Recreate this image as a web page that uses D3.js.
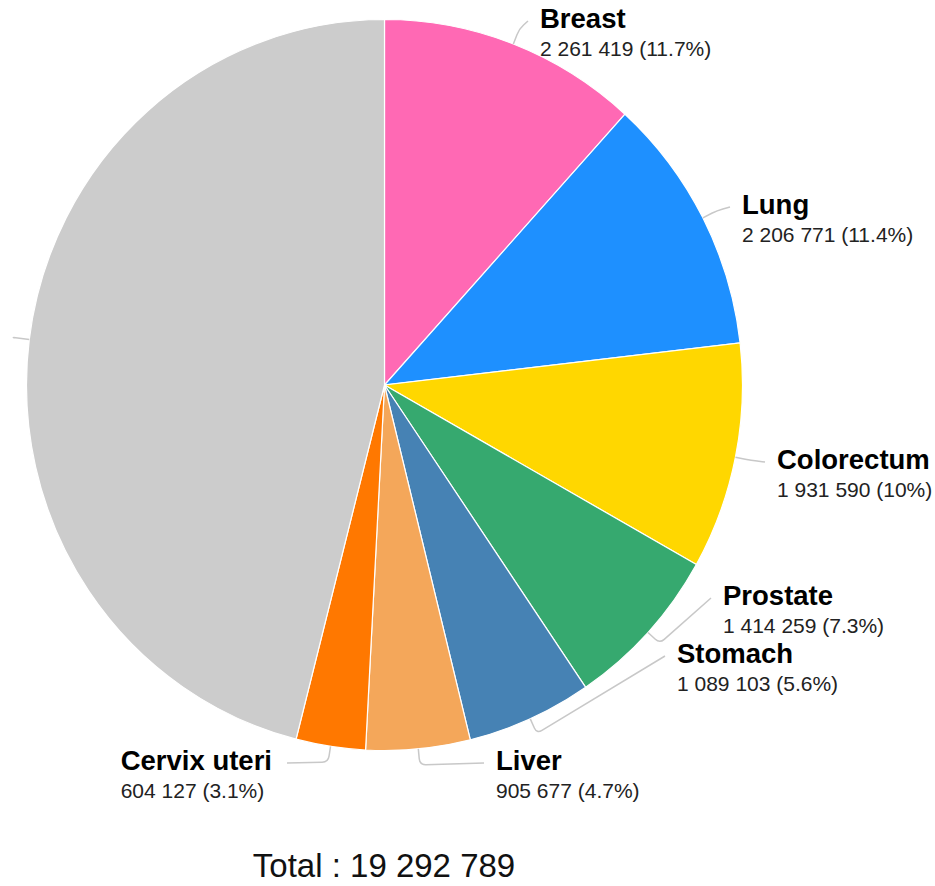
<!DOCTYPE html>
<html>
<head>
<meta charset="utf-8">
<script src="https://cdn.jsdelivr.net/npm/d3@7"></script>
<style>
  html, body { margin: 0; padding: 0; background: #fff; }
  svg { display: block; font-family: "Liberation Sans", Arial, sans-serif; }
</style>
</head>
<body>
<svg id="chart" width="935" height="886"></svg>
<script>
// ---- data ----
const categories = ["Breast", "Lung", "Colorectum", "Prostate", "Stomach", "Liver", "Cervix uteri", "Other cancers"];
const values = [2261419, 2206771, 1931590, 1414259, 1089103, 905677, 604127, 8879843];
const percentLabels = ["11.7%", "11.4%", "10%", "7.3%", "5.6%", "4.7%", "3.1%", "46%"];
const colors = ["#ff69b4", "#1e90ff", "#ffd700", "#36a96f", "#4682b4", "#f4a75a", "#ff7800", "#cccccc"];
const totalLabel = "Total : 19 292 789";

// ---- layout (label anchor positions: text x, name baseline y, text anchor) ----
const labelLayout = [
  { x: 540, y: 28, anchor: "start" },
  { x: 742, y: 214, anchor: "start" },
  { x: 777, y: 469, anchor: "start" },
  { x: 723, y: 605, anchor: "start" },
  { x: 677, y: 663, anchor: "start" },
  { x: 496, y: 770, anchor: "start" },
  { x: 272, y: 770, anchor: "end" },
  { x: 1, y: 345, anchor: "end", hidden: true }
];

const cx = 384.5, cy = 385, rx = 358, ry = 365.5;
const svg = d3.select("#chart");
const fmt = v => d3.format(",")(v).replace(/,/g, " ");

const pie = d3.pie().sort(null).value(d => d.value);
const data = categories.map((c, i) => ({ name: c, value: values[i], pct: percentLabels[i], color: colors[i], lay: labelLayout[i] }));
const arcs = pie(data);
const arc = d3.arc().innerRadius(0).outerRadius(ry);

const g = svg.append("g").attr("transform", `translate(${cx},${cy}) scale(${rx / ry},1)`);
g.selectAll("path.slice").data(arcs).join("path")
  .attr("class", "slice")
  .attr("d", arc)
  .attr("fill", d => d.data.color)
  .attr("stroke", "#fff")
  .attr("stroke-width", 1.2)
  .attr("vector-effect", "non-scaling-stroke");

// leader lines
const ext = 16, rr = 6;
function leader(d) {
  const a = (d.startAngle + d.endAngle) / 2;
  const ux = Math.sin(a), uy = -Math.cos(a);
  const p0 = [cx + rx * ux, cy + ry * uy];
  const p1 = [p0[0] + ext * ux, p0[1] + ext * uy];
  const L = d.data.lay;
  const p2 = L.anchor === "start" ? [L.x - 12, L.y - 7] : (L.hidden ? [13, 338] : [L.x + 15, L.y - 7]);
  const d1 = Math.hypot(p1[0] - p0[0], p1[1] - p0[1]);
  const v2 = [p2[0] - p1[0], p2[1] - p1[1]];
  const d2 = Math.hypot(v2[0], v2[1]);
  const r = Math.min(rr, d1 / 2, d2 / 2);
  const A = [p1[0] - r * ux, p1[1] - r * uy];
  const B = [p1[0] + r * v2[0] / d2, p1[1] + r * v2[1] / d2];
  return `M${p0[0]},${p0[1]}L${A[0]},${A[1]}Q${p1[0]},${p1[1]} ${B[0]},${B[1]}L${p2[0]},${p2[1]}`;
}
svg.append("g").selectAll("path").data(arcs).join("path")
  .attr("d", leader)
  .attr("fill", "none")
  .attr("stroke", "#c8c8c8")
  .attr("stroke-width", 1.5);

// labels
const lg = svg.append("g").selectAll("g").data(arcs.filter(d => !d.data.lay.hidden)).join("g");
lg.append("text")
  .attr("x", d => d.data.lay.x)
  .attr("y", d => d.data.lay.y)
  .attr("font-size", 27.5)
  .attr("font-weight", "bold")
  .attr("fill", "#000")
  .text(d => d.data.name)
  .each(function(d) {
    if (d.data.lay.anchor === "end") {
      const w = this.getComputedTextLength();
      d3.select(this).attr("x", d.data.lay.x - w);
      d.data.lay.left = d.data.lay.x - w;
    } else {
      d.data.lay.left = d.data.lay.x;
    }
  });
lg.append("text")
  .attr("x", d => d.data.lay.left)
  .attr("y", d => d.data.lay.y + 28)
  .attr("font-size", 21)
  .attr("fill", "#222")
  .text(d => `${fmt(d.data.value)} (${d.data.pct})`);

svg.append("text")
  .attr("x", 384)
  .attr("y", 877)
  .attr("text-anchor", "middle")
  .attr("font-size", 33)
  .attr("fill", "#111")
  .text(totalLabel);
</script>
</body>
</html>
